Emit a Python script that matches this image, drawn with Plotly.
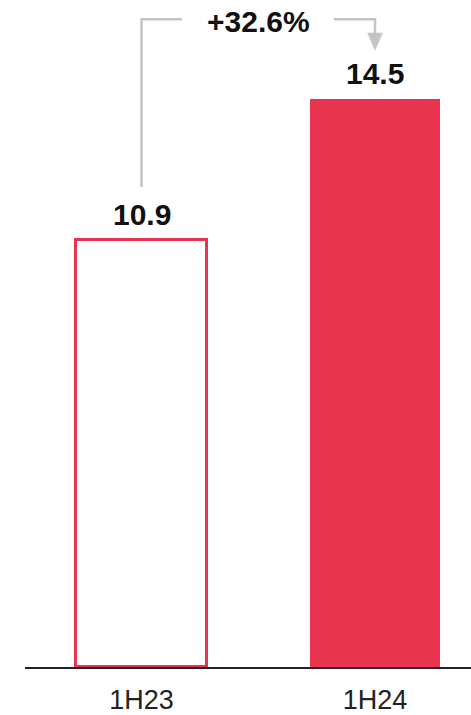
import plotly.graph_objects as go

categories = ["1H23", "1H24"]
values = [10.9, 14.5]
value_labels = ["10.9", "14.5"]
change_label = "+32.6%"

RED = "#E8344F"
GRAY = "#C4C4C4"
FONT = "Liberation Sans"

xs = list(range(len(categories)))

fig = go.Figure()
fig.add_trace(go.Bar(
    x=xs, y=values, width=0.56,
    marker=dict(color=["white", RED], line=dict(color=RED, width=[3, 0])),
    hoverinfo="skip",
))

# value labels
for xi, v, lab in zip(xs, values, value_labels):
    fig.add_annotation(x=xi, y=v, text=f"<b>{lab}</b>", showarrow=False,
                       yanchor="bottom", yshift=7,
                       font=dict(family=FONT, size=30, color="#111111"))

# growth connector
top = 16.53
lw = 2.5
fig.add_shape(type="path", xref="x", yref="y",
              path=f"M {xs[0]},{values[0]+1.35} L {xs[0]},{top} L 0.173,{top}",
              line=dict(color=GRAY, width=lw))
fig.add_shape(type="path", xref="x", yref="y",
              path=f"M 0.824,{top} L {xs[1]},{top} L {xs[1]},16.15",
              line=dict(color=GRAY, width=lw))
fig.add_shape(type="path", xref="x", yref="y",
              path=f"M {xs[1]-0.032},16.18 L {xs[1]+0.032},16.18 L {xs[1]},{values[1]+1.24} Z",
              fillcolor=GRAY, line=dict(color=GRAY, width=0.5))
fig.add_annotation(x=(xs[0]+xs[1])/2 + 0.0, y=top, text=f"<b>{change_label}</b>",
                   showarrow=False, yanchor="middle", yshift=-2,
                   font=dict(family=FONT, size=30, color="#111111"))

fig.update_layout(
    width=471, height=715,
    margin=dict(l=25, r=0, t=0, b=48),
    plot_bgcolor="white", paper_bgcolor="white",
    showlegend=False,
    bargap=0,
    xaxis=dict(range=[-0.499, 1.411], tickmode="array", tickvals=xs, ticktext=categories,
               showline=True, linecolor="#222222", linewidth=1.5, showgrid=False,
               zeroline=False, ticks="", ticklabelstandoff=8,
               tickfont=dict(family=FONT, size=27, color="#222222")),
    yaxis=dict(range=[0, 17.02], visible=False, showgrid=False, zeroline=False),
)

fig.write_html("out.html", config={"displayModeBar": False},
               post_script="document.body.style.margin='0';document.body.style.overflow='hidden';")
